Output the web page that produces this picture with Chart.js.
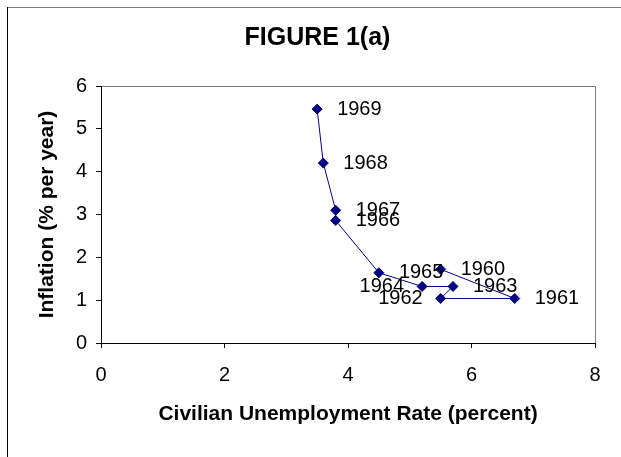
<!DOCTYPE html>
<html>
<head>
<meta charset="utf-8">
<script src="https://cdn.jsdelivr.net/npm/chart.js@4.4.1/dist/chart.umd.min.js"></script>
<style>
  html, body { margin: 0; padding: 0; background: #fff; }
  #wrap { position: relative; width: 621px; height: 457px; }
</style>
</head>
<body>
<div id="wrap"><canvas id="phillips" width="621" height="457"></canvas></div>
<script>
// Годы, безработица (x) и инфляция (y)
const years = ['1960', '1961', '1962', '1963', '1964', '1965', '1966', '1967', '1968', '1969'];
const unemployment = [5.5, 6.7, 5.5, 5.7, 5.2, 4.5, 3.8, 3.8, 3.6, 3.5];
const inflation = [1.72, 1.04, 1.04, 1.32, 1.32, 1.64, 2.86, 3.1, 4.2, 5.46];
// с какой стороны от точки подпись
const labelSide = ['right', 'right', 'left', 'right', 'left', 'right', 'right', 'right', 'right', 'right'];

const xTicks = [0, 2, 4, 6, 8];
const yTicks = [0, 1, 2, 3, 4, 5, 6];

const navy = '#000080';
const fontFamily = '"Liberation Sans", Arial, sans-serif';

// рамка графика и области построения
const framePlugin = {
    id: 'frame',
    beforeDraw(chart) {
        const ctx = chart.ctx;
        const a = chart.chartArea;
        ctx.save();
        ctx.lineWidth = 1;
        ctx.strokeStyle = '#808080';
        ctx.beginPath();
        ctx.moveTo(7, 7.5);
        ctx.lineTo(chart.width, 7.5);
        ctx.moveTo(a.left, Math.round(a.top) + 0.5);
        ctx.lineTo(Math.round(a.right) + 0.5, Math.round(a.top) + 0.5);
        ctx.lineTo(Math.round(a.right) + 0.5, a.bottom);
        ctx.stroke();
        ctx.strokeStyle = '#000';
        ctx.beginPath();
        ctx.moveTo(7.5, 7);
        ctx.lineTo(7.5, chart.height);
        ctx.stroke();
        ctx.restore();
    }
};

// подписи годов у точек
const yearLabels = {
    id: 'yearLabels',
    afterDatasetsDraw(chart) {
        const ctx = chart.ctx;
        const meta = chart.getDatasetMeta(0);
        ctx.save();
        ctx.font = '20px ' + fontFamily;
        ctx.fillStyle = '#000';
        ctx.textBaseline = 'middle';
        meta.data.forEach((pt, i) => {
            if (labelSide[i] === 'left') {
                ctx.textAlign = 'right';
                ctx.fillText(years[i], pt.x - 18, pt.y);
            } else {
                ctx.textAlign = 'left';
                ctx.fillText(years[i], pt.x + 20, pt.y);
            }
        });
        ctx.restore();
    }
};

const ctx = document.getElementById('phillips').getContext('2d');
new Chart(ctx, {
    type: 'scatter',
    data: {
        datasets: [{
            data: unemployment.map((u, i) => ({ x: u, y: inflation[i] })),
            showLine: true,
            borderColor: navy,
            borderWidth: 1,
            backgroundColor: navy,
            pointStyle: 'rectRot',
            pointRadius: 5,
            pointBorderWidth: 1,
            pointBackgroundColor: navy,
            pointBorderColor: navy
        }]
    },
    options: {
        responsive: false,
        animation: false,
        devicePixelRatio: 1,
        // слева 40 + ось 61 = 101, чтобы заголовок стоял по центру рисунка
        layout: { padding: { left: 40, right: 26, top: 0, bottom: 0 } },
        plugins: {
            legend: { display: false },
            tooltip: { enabled: false },
            title: {
                display: true,
                text: 'FIGURE 1(a)',
                color: '#000',
                font: { family: fontFamily, size: 25, weight: 'bold' },
                padding: { top: 23, bottom: 33 }
            }
        },
        scales: {
            x: {
                type: 'linear',
                min: 0,
                max: 8,
                afterBuildTicks: s => { s.ticks = xTicks.map(v => ({ value: v })); },
                afterFit: s => { s.height = 114; },
                grid: { display: true, drawOnChartArea: false, drawTicks: true, tickLength: 5, color: '#000' },
                border: { display: true, color: '#000', width: 1 },
                ticks: { color: '#000', padding: 15, font: { family: fontFamily, size: 20 } },
                title: {
                    display: true,
                    text: 'Civilian Unemployment Rate (percent)',
                    color: '#000',
                    font: { family: fontFamily, size: 21, weight: 'bold' },
                    padding: { top: 0, bottom: 30 }
                }
            },
            y: {
                type: 'linear',
                min: 0,
                max: 6,
                afterBuildTicks: s => { s.ticks = yTicks.map(v => ({ value: v })); },
                afterFit: s => { s.width = 61; },
                grid: { display: true, drawOnChartArea: false, drawTicks: true, tickLength: 5, color: '#000' },
                border: { display: true, color: '#000', width: 1 },
                ticks: { color: '#000', padding: 9, font: { family: fontFamily, size: 20 } },
                title: {
                    display: true,
                    text: 'Inflation (% per year)',
                    color: '#000',
                    font: { family: fontFamily, size: 21, weight: 'bold' },
                    padding: { top: -5.6, bottom: 0 }
                }
            }
        }
    },
    plugins: [framePlugin, yearLabels]
});
</script>
</body>
</html>
